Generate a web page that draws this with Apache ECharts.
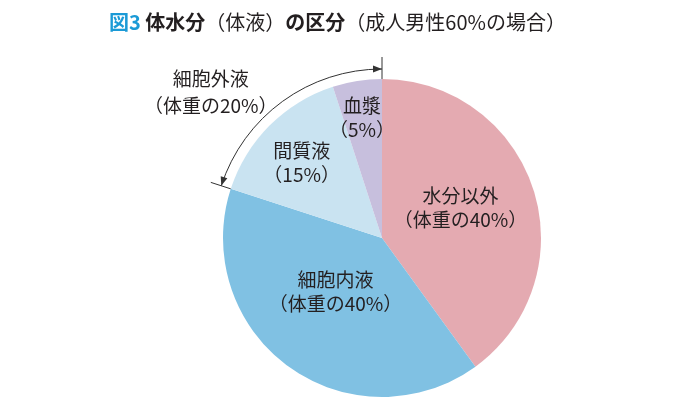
<!DOCTYPE html>
<html><head><meta charset="utf-8">
<script src="https://cdn.jsdelivr.net/npm/echarts@6/dist/echarts.min.js"></script>
<style>html,body{margin:0;padding:0;background:#fff}#c{width:700px;height:400px}</style>
</head><body><div id="c"></div>
<script>
// ---- data ----
const categories = ['水分以外', '細胞内液', '間質液', '血漿'];
const values = [40, 40, 15, 5];            // % of body weight
const labelPrefix = ['体重の', '体重の', '', ''];
const extracellularParts = ['間質液', '血漿'];
const extracellularName = '細胞外液';
const titleFig = '図3';
const titleMain1 = '体水分';
const titleSub1 = '（体液）';
const titleMain2 = 'の区分';
const titleSub2 = '（成人男性60%の場合）';

// ---- style / layout ----
const colors = ['#e4aab1', '#80c1e3', '#c9e3f1', '#c7bfdd'];
const CX = 382, CY = 238, R = 159;
const labelShift = [[0, -5], [2, -13], [-22, -17], [-7, -39]];
const FONT = '"Noto Sans CJK JP", "Noto Sans", sans-serif';
const TXT = '#231f20';

const total = values.reduce((a, b) => a + b, 0);
const extValue = categories.reduce((s, c, i) => s + (extracellularParts.includes(c) ? values[i] : 0), 0);

// arc annotation geometry derived from data
const deg = Math.PI / 180;
const aTop = -90 * deg;
const aLeft = (-90 + 360 * (1 - extValue / total)) * deg;
const AR = 169;
function pt(a, r) { return [CX + r * Math.cos(a), CY + r * Math.sin(a)]; }
function arrow(a, d) {
  const P = pt(a, AR);
  const L = 9, w = 3.5;
  const B = [P[0] - L * d[0], P[1] - L * d[1]];
  const n = [-d[1], d[0]];
  return { type: 'polygon', silent: true,
    shape: { points: [P, [B[0] + w * n[0], B[1] + w * n[1]], [B[0] - w * n[0], B[1] - w * n[1]]] },
    style: { fill: '#333' } };
}
const t1 = pt(aTop, R), t2 = pt(aTop, R + 22);
const l1 = pt(aLeft, R), l2 = pt(aLeft, R + 21);

const TS = 20;
const chart = echarts.init(document.getElementById('c'), null, { renderer: 'canvas' });
chart.setOption({
  animation: false,
  backgroundColor: '#ffffff',
  title: {
    left: 104, top: 5,
    text: '{a|' + titleFig + '} {b|' + titleMain1 + '}{c|' + titleSub1 + '}{b|' + titleMain2 + '}{c|' + titleSub2 + '}',
    textStyle: {
      fontFamily: FONT, fontSize: TS, lineHeight: 24,
      rich: {
        a: { fontFamily: FONT, fontSize: TS, fontWeight: 'bold', color: '#1b9ad6' },
        b: { fontFamily: FONT, fontSize: TS, fontWeight: 'bold', color: TXT },
        c: { fontFamily: FONT, fontSize: TS, fontWeight: 'normal', color: TXT }
      }
    }
  },
  series: [{
    type: 'pie',
    center: [CX, CY],
    radius: [0, R],
    startAngle: 90,
    clockwise: true,
    silent: true,
    itemStyle: { borderWidth: 0 },
    label: {
      show: true, position: 'inside',
      fontFamily: FONT, fontSize: 19, lineHeight: 24, color: TXT,
      formatter: p => p.name + '\n（' + labelPrefix[p.dataIndex] + p.value + '%）'
    },
    labelLine: { show: false },
    labelLayout: p => ({ dx: labelShift[p.dataIndex][0], dy: labelShift[p.dataIndex][1] }),
    data: categories.map((c, i) => ({ name: c, value: values[i], itemStyle: { color: colors[i] } }))
  }],
  graphic: [
    { type: 'arc', silent: true,
      shape: { cx: CX, cy: CY, r: AR, startAngle: aLeft, endAngle: aTop + 2 * Math.PI, clockwise: true },
      style: { stroke: '#333', fill: null, lineWidth: 1 } },
    { type: 'line', silent: true, shape: { x1: t1[0], y1: t1[1], x2: t2[0], y2: t2[1] }, style: { stroke: '#333', lineWidth: 1 } },
    { type: 'line', silent: true, shape: { x1: l1[0], y1: l1[1], x2: l2[0], y2: l2[1] }, style: { stroke: '#333', lineWidth: 1 } },
    arrow(aTop, [-Math.sin(aTop), Math.cos(aTop)]),
    arrow(aLeft, [Math.sin(aLeft), -Math.cos(aLeft)]),
    { type: 'text', silent: true, left: 144, top: 65,
      style: { text: extracellularName + '\n（体重の' + extValue + '%）', fontFamily: FONT, fontSize: 19, lineHeight: 27,
        fill: TXT, textAlign: 'center' } }
  ]
});
</script></body></html>
